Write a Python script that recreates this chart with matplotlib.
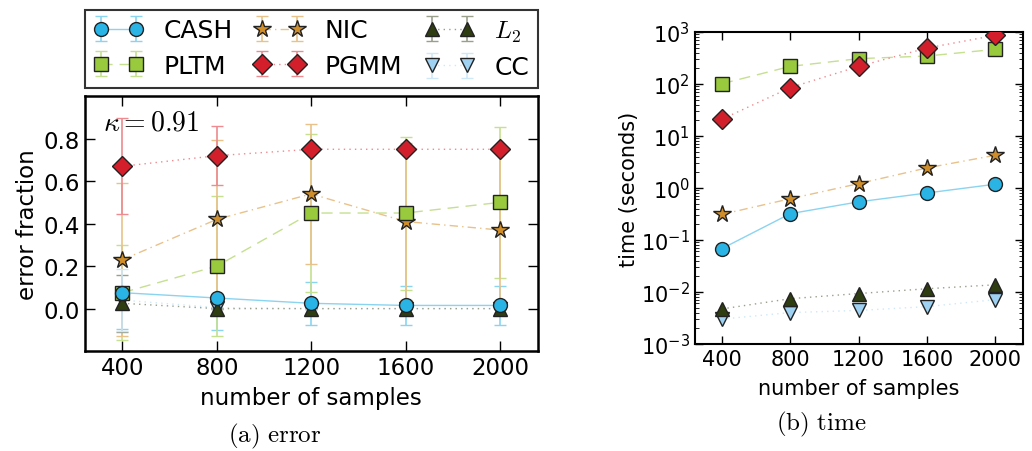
import matplotlib
matplotlib.use("Agg")
import matplotlib.pyplot as plt

plt.rcParams['mathtext.fontset'] = 'cm'
plt.rcParams['font.family'] = 'DejaVu Sans'
plt.rcParams['xtick.direction'] = 'in'
plt.rcParams['ytick.direction'] = 'in'
plt.rcParams['xtick.top'] = True
plt.rcParams['ytick.right'] = True

samples = [400, 800, 1200, 1600, 2000]
methods = ['CASH', 'PLTM', 'NIC', 'PGMM', r'$L_2$', 'CC']

# (a) error fraction, mean and spread
err_cash = [0.075, 0.05, 0.025, 0.015, 0.015]
err_pltm = [0.075, 0.20, 0.45, 0.45, 0.50]
err_nic = [0.23, 0.42, 0.54, 0.41, 0.37]
err_pgmm = [0.67, 0.72, 0.75, 0.75, 0.75]
err_l2 = [0.025, 0.0, 0.0, 0.0, 0.0]
err_cc = [0.04, 0.005, 0.0, 0.0, 0.0]

sd_cash = [0.17, 0.15, 0.10, 0.09, 0.09]
sd_pltm = [0.225, 0.33, 0.37, 0.36, 0.355]
sd_nic = [0.36, 0.375, 0.33, 0.37, 0.37]
sd_pgmm = [0.225, 0.14, 0.01, 0.01, 0.01]
sd_l2 = [0.135, 0.0, 0.0, 0.0, 0.0]
sd_cc = [0.145, 0.0, 0.0, 0.0, 0.0]

# (b) running time in seconds
time_cash = [0.068, 0.32, 0.54, 0.80, 1.18]
time_pltm = [101, 218, 307, 345, 464]
time_nic = [0.31, 0.62, 1.21, 2.43, 4.26]
time_pgmm = [21, 85, 218, 492, 863]
time_l2 = [0.0047, 0.0074, 0.0093, 0.0115, 0.0137]
time_cc = [0.0030, 0.0040, 0.0044, 0.0052, 0.0071]

errs = [err_cash, err_pltm, err_nic, err_pgmm, err_l2, err_cc]
sds = [sd_cash, sd_pltm, sd_nic, sd_pgmm, sd_l2, sd_cc]
times = [time_cash, time_pltm, time_nic, time_pgmm, time_l2, time_cc]

# marker, face colour, light line colour, line style, marker size, zorder
styles = [
    ('o', '#2ab4e6', '#8ad4f0', '-', 10, 10),
    ('s', '#99c93c', '#c5e08f', (0, (8, 5)), 9.5, 8),
    ('*', '#d08e2a', '#e9c28a', (0, (6, 3, 1, 3)), 13, 7),
    ('D', '#d21f2b', '#ee8a90', (0, (1, 3)), 10, 9),
    ('^', '#2f3d12', '#9a9f8c', (0, (1, 3)), 10, 6),
    ('v', '#9fd2f2', '#cfe8f8', (0, (1, 3)), 10, 5),
]

fig = plt.figure(figsize=(10.32, 4.52), dpi=100)
ax1 = fig.add_axes([0.082, 0.221, 0.439, 0.564])
ax2 = fig.add_axes([0.673, 0.237, 0.318, 0.690])

handles = []
for name, y, sd, t, st in zip(methods, errs, sds, times, styles):
    mk, fc, lc, ls, ms, z = st
    h = ax1.errorbar(samples, y, yerr=sd, marker=mk, ms=ms, mfc=fc, mec='#222222',
                     mew=1, color=lc, ls=ls, lw=1, ecolor=lc, elinewidth=1.2,
                     capsize=4, capthick=1.2, label=name, zorder=z)
    # keep every error bar beneath the markers
    data_line, caps, bars = h.lines
    for c in caps:
        c.set_zorder(2)
    for b in bars:
        b.set_zorder(2)
    handles.append(h)
    ax2.plot(samples, t, marker=mk, ms=ms, mfc=fc, mec='#222222', mew=1,
             color=lc, ls=ls, lw=1, zorder=z)

ax1.set_xlim(240, 2160)
ax1.set_ylim(-0.2, 1.0)
ax1.set_xticks(samples)
ax1.set_yticks([0.0, 0.2, 0.4, 0.6, 0.8])
ax1.tick_params(labelsize=16.5, length=7, width=1)
ax1.set_xlabel('number of samples', fontsize=16.5, labelpad=5)
ax1.set_ylabel('error fraction', fontsize=16.5, labelpad=3)
ax1.text(0.04, 0.9, r'$\kappa=0.91$', transform=ax1.transAxes,
         fontsize=20, va='center', ha='left', zorder=20)
for s in ax1.spines.values():
    s.set_linewidth(1.8)

ax2.set_yscale('log')
ax2.set_xlim(240, 2160)
ax2.set_ylim(1e-3, 1e3)
ax2.set_xticks(samples)
ax2.tick_params(labelsize=15, length=6, width=1)
ax2.tick_params(which='minor', length=3)
ax2.set_xlabel('number of samples', fontsize=15, labelpad=7)
ax2.set_ylabel('time (seconds)', fontsize=15, labelpad=1)
for s in ax2.spines.values():
    s.set_linewidth(1.5)

leg = fig.legend(handles, methods, ncol=3, loc='center',
                 bbox_to_anchor=(0.082, 0.80, 0.439, 0.18), mode='expand',
                 fontsize=18, numpoints=2, handlelength=2.0, handletextpad=0.8,
                 columnspacing=0.5, labelspacing=0.45, borderaxespad=0.0,
                 borderpad=0.35, fancybox=False, frameon=True)
leg.get_frame().set_edgecolor('black')
leg.get_frame().set_linewidth(1.5)

fig.text(275 / 1032, 1 - 436 / 452, r'$\mathrm{(a)\ error}$', fontsize=18,
         ha='center', va='center')
fig.text(821 / 1032, 1 - 424 / 452, r'$\mathrm{(b)\ time}$', fontsize=18,
         ha='center', va='center')

fig.savefig('out.png', dpi=100)
